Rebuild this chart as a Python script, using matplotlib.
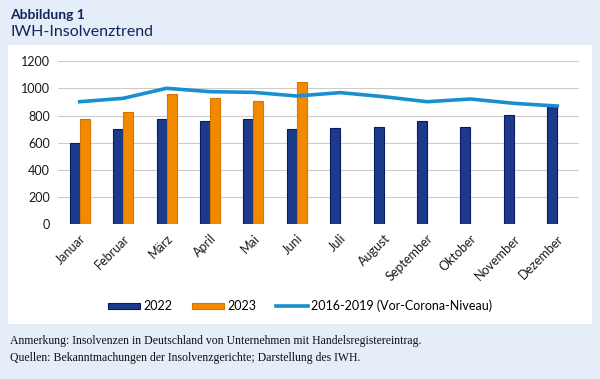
import numpy as np
import matplotlib.pyplot as plt
from matplotlib.patches import Rectangle

monate = ["Januar", "Februar", "März", "April", "Mai", "Juni", "Juli",
          "August", "September", "Oktober", "November", "Dezember"]
werte_2022 = [598, 698, 772, 757, 772, 703, 706, 713, 757, 718, 804, 861]
werte_2023 = [772, 829, 957, 927, 905, 1045]
vor_corona = [902, 927, 1001, 976, 971, 944, 969, 939, 902, 922, 890, 870]

bg = "#e4edf8"
navy = "#1c3a8c"
orange = "#f28a00"
linie = "#1a8fd0"
titel = "#14245a"

fig = plt.figure(figsize=(6, 3.79), dpi=100, facecolor=bg)

# weisses Feld hinter dem Diagramm
fig.patches.append(Rectangle((8/600, 1-324/379), 584/600, (324-45)/379,
                             transform=fig.transFigure, facecolor="white",
                             edgecolor="none", zorder=-5))

fig.text(10/600, 1-15/379, "Abbildung 1", fontsize=10, fontweight="bold",
         color=titel, family="Lato", va="center")
fig.text(10/600, 1-32/379, "IWH-Insolvenztrend", fontsize=11.5,
         color=titel, family="Lato", va="center")

ax = fig.add_axes([58/600, 1-224/379, 521/600, (224-61.3)/379])
ax.set_zorder(2)
ax.set_facecolor("white")

x = np.arange(len(monate))
w = 0.23
b1 = ax.bar(x - w/2, werte_2022, w, color=navy, edgecolor="#0b1a5e", linewidth=0.8,
            zorder=2)
b2 = ax.bar(x[:len(werte_2023)] + w/2, werte_2023, w, color=orange,
            edgecolor="#d87400", linewidth=0.8, zorder=2)
l1, = ax.plot(x, vor_corona, color=linie, linewidth=2.6, zorder=3)

ax.set_xlim(-0.5, 11.5)
ax.set_ylim(0, 1200)
ax.set_yticks(range(0, 1201, 200))
ax.grid(axis="y", color="#cccccc", linewidth=0.8, zorder=0)
for s in ax.spines.values():
    s.set_visible(False)
ax.tick_params(length=0, labelsize=9, labelcolor="#1a1a1a", pad=6)
ax.set_xticks(x)
ax.set_xticklabels(monate, rotation=45, ha="right", rotation_mode="anchor",
                   family="Lato")
for lab in ax.get_yticklabels():
    lab.set_family("Lato")

leg = fig.legend([b1, b2, l1], ["2022", "2023", "2016-2019 (Vor-Corona-Niveau)"],
                 loc="center", bbox_to_anchor=(300/600, 1-306/379), ncol=3,
                 frameon=False, prop={"family": "Lato", "size": 9},
                 handlelength=2.6, handleheight=0.4, handletextpad=0.2,
                 columnspacing=1.6)

fig.text(10/600, 1-341/379,
         "Anmerkung: Insolvenzen in Deutschland von Unternehmen mit Handelsregistereintrag.",
         fontsize=8.5, family="Liberation Serif", color="#111111", va="center")
fig.text(10/600, 1-358/379,
         "Quellen: Bekanntmachungen der Insolvenzgerichte; Darstellung des IWH.",
         fontsize=8.5, family="Liberation Serif", color="#111111", va="center")

fig.savefig("out.png", dpi=100, facecolor=bg)
